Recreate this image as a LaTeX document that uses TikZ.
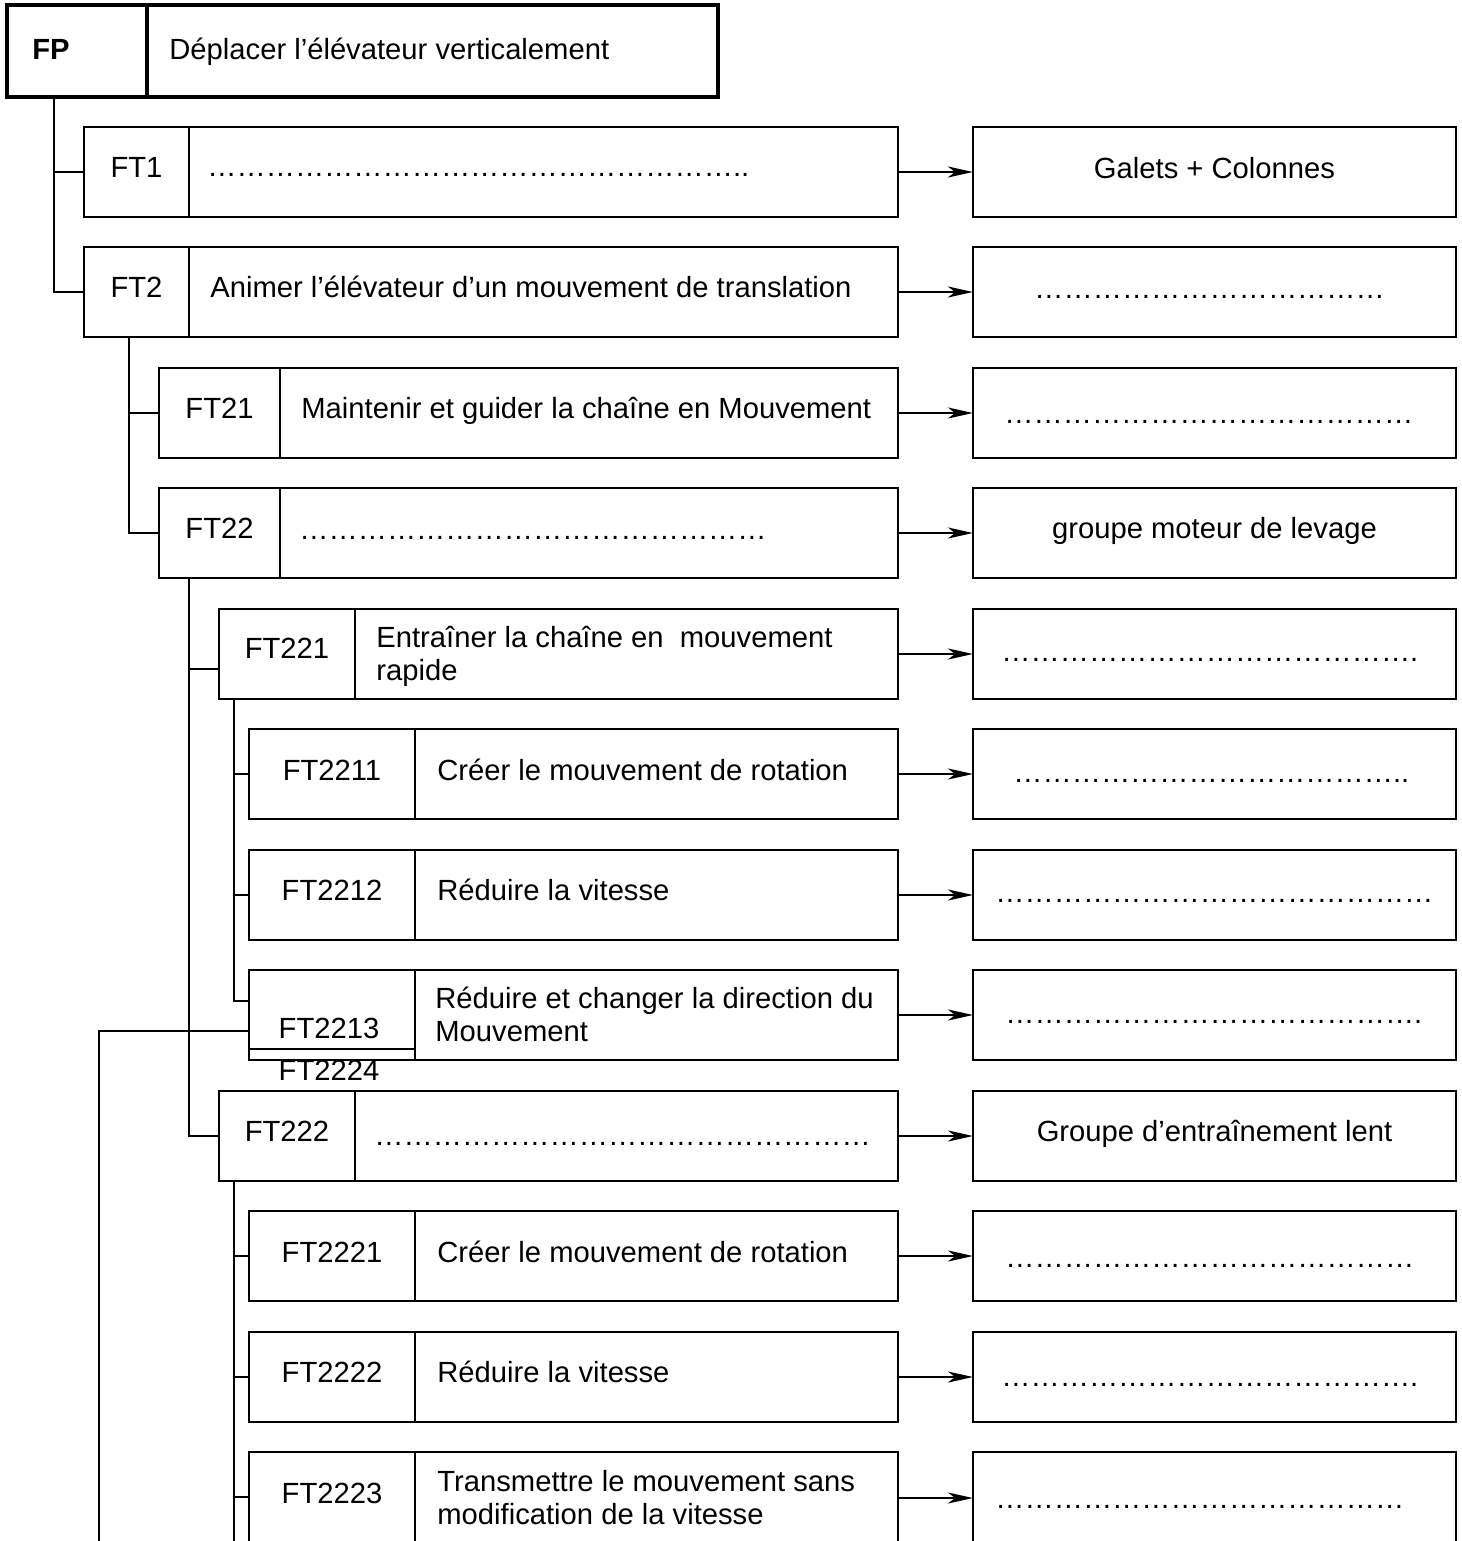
\documentclass[tikz,border=0pt]{standalone}
\usepackage{fontspec}
\setmainfont{Liberation Sans}
\usetikzlibrary{arrows.meta,calc}
\newcommand\mkcell[6]{%
  \node[#2, anchor=north west, minimum width={(#5-#3)*0.5pt}, minimum height={(#6-#4)*0.5pt}] (#1) at (#3,#4) {};}
\newcount\ellcnt
\newcommand\ellrow[2]{\ellcnt=0\relax\loop\ifnum\ellcnt<#1\relax …\advance\ellcnt by 1\relax\repeat#2}
\begin{document}
\begin{tikzpicture}[x=0.5pt,y=-0.5pt,
  cellbox/.style={draw=black, line width=1pt, rectangle, inner sep=0pt, outer sep=0pt},
  cellthick/.style={cellbox, line width=1.35pt},
  cellfp/.style={cellbox, line width=1.65pt},
  conn/.style={draw=black, line width=0.9pt},
  arr/.style={draw=black, line width=1.2pt, -{Stealth[length=12.5pt, width=5.5pt, inset=3.5pt]}},
  txt/.style={anchor=base west, inner sep=0pt, font=\fontsize{14.6}{16.7}\selectfont},
  lbl/.style={anchor=base, inner sep=0pt, font=\fontsize{14.6}{16.7}\selectfont}]
\useasboundingbox (0,0) rectangle (1461,1541);
\fill[white] (0,0) rectangle (1461,1541);
\clip (0,0) rectangle (1461,1541);

% ---- boxes ----
\mkcell{FPl}{cellfp}{7}{5}{147}{97}
\mkcell{FPm}{cellfp}{147}{5}{718}{97}

\mkcell{FT1l}{cellbox}{84}{127}{189}{217}
\mkcell{FT1m}{cellbox}{189}{127}{898}{217}
\mkcell{FT1r}{cellbox}{973}{127}{1456}{217}

\mkcell{FT2l}{cellbox}{84}{247}{189}{337}
\mkcell{FT2m}{cellbox}{189}{247}{898}{337}
\mkcell{FT2r}{cellbox}{973}{247}{1456}{337}

\mkcell{FT21l}{cellbox}{159}{368}{280}{458}
\mkcell{FT21m}{cellbox}{280}{368}{898}{458}
\mkcell{FT21r}{cellbox}{973}{368}{1456}{458}

\mkcell{FT22l}{cellbox}{159}{488}{280}{578}
\mkcell{FT22m}{cellbox}{280}{488}{898}{578}
\mkcell{FT22r}{cellbox}{973}{488}{1456}{578}

\mkcell{FT221l}{cellthick}{219}{609}{355}{699}
\mkcell{FT221m}{cellthick}{355}{609}{898}{699}
\mkcell{FT221r}{cellbox}{973}{609}{1456}{699}

\mkcell{FT2211l}{cellbox}{249}{729}{415}{819}
\mkcell{FT2211m}{cellbox}{415}{729}{898}{819}
\mkcell{FT2211r}{cellbox}{973}{729}{1456}{819}

\mkcell{FT2212l}{cellbox}{249}{850}{415}{940}
\mkcell{FT2212m}{cellbox}{415}{850}{898}{940}
\mkcell{FT2212r}{cellbox}{973}{850}{1456}{940}

\mkcell{FT2213l}{cellbox}{249}{970}{415}{1060}
\mkcell{FT2213m}{cellbox}{415}{970}{898}{1060}
\mkcell{FT2213r}{cellbox}{973}{970}{1456}{1060}

\mkcell{FT222l}{cellthick}{219}{1091}{355}{1181}
\mkcell{FT222m}{cellthick}{355}{1091}{898}{1181}
\mkcell{FT222r}{cellbox}{973}{1091}{1456}{1181}

\mkcell{FT2221l}{cellbox}{249}{1211}{415}{1301}
\mkcell{FT2221m}{cellbox}{415}{1211}{898}{1301}
\mkcell{FT2221r}{cellbox}{973}{1211}{1456}{1301}

\mkcell{FT2222l}{cellbox}{249}{1332}{415}{1422}
\mkcell{FT2222m}{cellbox}{415}{1332}{898}{1422}
\mkcell{FT2222r}{cellbox}{973}{1332}{1456}{1422}

\mkcell{FT2223l}{cellbox}{249}{1452}{415}{1544}
\mkcell{FT2223m}{cellbox}{415}{1452}{898}{1544}
\mkcell{FT2223r}{cellbox}{973}{1452}{1456}{1544}

% overlapping FT2224 cell top edge
\draw[cellbox] ($(FT2213l.south west)+(0,-11)$) -- ($(FT2213l.south east)+(0,-11)$);

% ---- tree connectors ----
\draw[conn] ($(FPl.south west)+(47,0)$) |- (FT1l.west);
\draw[conn] ($(FPl.south west)+(47,0)$) |- (FT2l.west);
\draw[conn] ($(FT2l.south west)+(45,0)$) |- (FT21l.west);
\draw[conn] ($(FT2l.south west)+(45,0)$) |- (FT22l.west);
\draw[conn] ($(FT22l.south west)+(30,0)$) |- ($(FT221l.west)+(0,15)$);
\draw[conn] ($(FT22l.south west)+(30,0)$) |- (FT222l.west);
\draw[conn] ($(FT221l.south west)+(15,0)$) |- (FT2211l.west);
\draw[conn] ($(FT221l.south west)+(15,0)$) |- (FT2212l.west);
\draw[conn] ($(FT221l.south west)+(15,0)$) |- ($(FT2213l.west)+(0,-14)$);
\coordinate (lowend) at (99,1560);
\draw[conn] ($(FT2213l.west)+(0,16)$) -| (lowend);
\coordinate (trunkend) at (234,1560);
\draw[conn] ($(FT222l.south west)+(15,0)$) -- (trunkend);
\draw[conn] ($(FT222l.south west)+(15,0)$) |- (FT2221l.west);
\draw[conn] ($(FT222l.south west)+(15,0)$) |- (FT2222l.west);
\draw[conn] ($(FT222l.south west)+(15,0)$) |- ($(FT2223l.west)+(0,-1)$);

% ---- arrows ----
\foreach \r in {FT1,FT2,FT21,FT22,FT221,FT2211,FT2212,FT2213,FT222,FT2221,FT2222,FT2223}
  \draw[arr] (\r m.east) -- (\r r.west);

% ---- texts ----
\node[txt, font=\fontsize{14.6}{16.7}\selectfont\bfseries] (tFP) at (32,60) {FP};
\node[txt] (tFPm) at (169,60) {Déplacer l’élévateur verticalement};

\node[lbl] (tFT1) at (136.5,177) {FT1};
\node[txt] (tFT1m) at (207,176.5) {\ellrow{18}{..}};
\node[lbl] (tFT1r) at (1214.5,178) {Galets + Colonnes};

\node[lbl] (tFT2) at (136.5,297) {FT2};
\node[txt] (tFT2m) at (210,297) {Animer l’élévateur d’un mouvement de translation};
\node[txt] (tFT2r) at (1034,298) {\ellrow{12}{}};

\node[lbl] (tFT21) at (219.5,418) {FT21};
\node[txt] (tFT21m) at (301,418) {Maintenir et guider la chaîne en Mouvement};
\node[txt] (tFT21r) at (1004,423) {\ellrow{14}{}};

\node[lbl] (tFT22) at (219.5,538.5) {FT22};
\node[txt] (tFT22m) at (299,539) {\ellrow{16}{}};
\node[lbl] (tFT22r) at (1214.5,538.5) {groupe moteur de levage};

\node[lbl] (tFT221) at (287,658.5) {FT221};
\node[txt] (tFT221m) at (376,647.5) {\vtop{\hbox{Entraîner la chaîne en~ mouvement}\hbox{rapide}}};
\node[txt] (tFT221r) at (1001,661) {\ellrow{14}{.}};

\node[lbl] (tFT2211) at (332,780) {FT2211};
\node[txt] (tFT2211m) at (437,780) {Créer le mouvement de rotation};
\node[txt] (tFT2211r) at (1013,782) {\ellrow{13}{..}};

\node[lbl] (tFT2212) at (332,900) {FT2212};
\node[txt] (tFT2212m) at (437,900) {Réduire la vitesse};
\node[txt] (tFT2212r) at (995,902) {\ellrow{15}{}};

\node[lbl] (tFT2213) at (329,1038) {FT2213};
\node[txt] (tFT2213m) at (435,1008.3) {\vtop{\hbox{Réduire et changer la direction du}\hbox{Mouvement}}};
\node[txt] (tFT2213r) at (1005,1023.5) {\ellrow{14}{.}};
\node[lbl] (tFT2224) at (329,1080) {FT2224};

\node[lbl] (tFT222) at (287,1141.5) {FT222};
\node[txt] (tFT222m) at (374,1145) {\ellrow{17}{}};
\node[lbl] (tFT222r) at (1214.5,1141) {Groupe d’entraînement lent};

\node[lbl] (tFT2221) at (332,1262) {FT2221};
\node[txt] (tFT2221m) at (437,1262) {Créer le mouvement de rotation};
\node[txt] (tFT2221r) at (1005,1267) {\ellrow{14}{}};

\node[lbl] (tFT2222) at (332,1382) {FT2222};
\node[txt] (tFT2222m) at (437,1382) {Réduire la vitesse};
\node[txt] (tFT2222r) at (1001,1386) {\ellrow{14}{.}};

\node[lbl] (tFT2223) at (332,1503) {FT2223};
\node[txt] (tFT2223m) at (437,1491.5) {\vtop{\hbox{Transmettre le mouvement sans}\hbox{modification de la vitesse}}};
\node[txt] (tFT2223r) at (995,1508) {\ellrow{14}{}};
\end{tikzpicture}
\end{document}
